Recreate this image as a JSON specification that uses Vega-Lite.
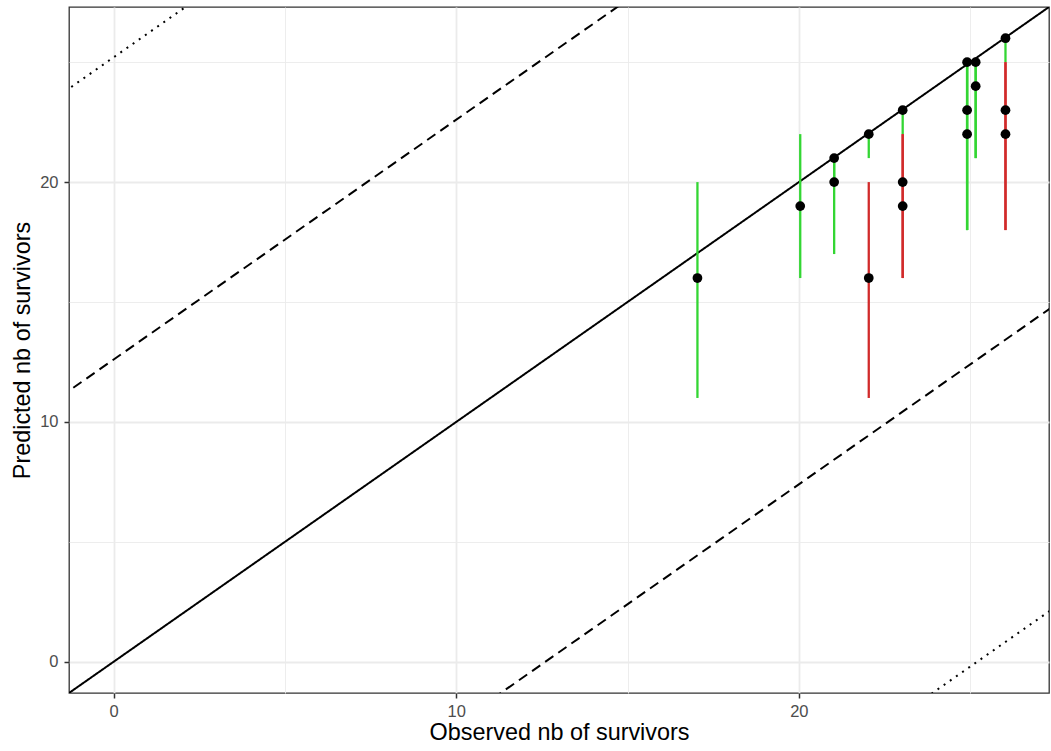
{
  "$schema": "https://vega.github.io/schema/vega-lite/v6.json",
  "width": 980,
  "height": 686,
  "autosize": "none",
  "padding": {"left": 69, "top": 7, "right": 2, "bottom": 58},
  "background": "white",
  "config": {
    "view": {"stroke": "#333333", "strokeWidth": 1.3},
    "font": "Liberation Sans"
  },
  "datasets": {
    "ref": [
      {"line": "identity", "style": "solid", "x": -5, "y": -5},
      {"line": "identity", "style": "solid", "x": 35, "y": 35},
      {"line": "dash_up", "style": "dashed", "x": -5, "y": 7.6},
      {"line": "dash_up", "style": "dashed", "x": 35, "y": 47.6},
      {"line": "dash_lo", "style": "dashed", "x": -5, "y": -17.6},
      {"line": "dash_lo", "style": "dashed", "x": 35, "y": 22.4},
      {"line": "dot_up", "style": "dotted", "x": -5, "y": 20.2},
      {"line": "dot_up", "style": "dotted", "x": 35, "y": 60.2},
      {"line": "dot_lo", "style": "dotted", "x": -5, "y": -30.2},
      {"line": "dot_lo", "style": "dotted", "x": 35, "y": 9.8}
    ],
    "obs": [
      {"x": 17.04, "y": 16, "lo": 11, "hi": 20, "col": "green"},
      {"x": 20.04, "y": 19, "lo": 16, "hi": 22, "col": "green"},
      {"x": 21.03, "y": 21, "lo": 20, "hi": 21, "col": "green"},
      {"x": 21.03, "y": 20, "lo": 17, "hi": 21, "col": "green"},
      {"x": 22.04, "y": 22, "lo": 21, "hi": 22, "col": "green"},
      {"x": 22.04, "y": 16, "lo": 11, "hi": 20, "col": "red"},
      {"x": 23.03, "y": 23, "lo": 22, "hi": 23, "col": "green"},
      {"x": 23.03, "y": 20, "lo": 16, "hi": 22, "col": "red"},
      {"x": 23.03, "y": 19, "lo": 16, "hi": 22, "col": "red"},
      {"x": 24.91, "y": 25, "lo": 18, "hi": 25, "col": "green"},
      {"x": 24.91, "y": 23, "lo": 18, "hi": 25, "col": "green"},
      {"x": 24.91, "y": 22, "lo": 18, "hi": 25, "col": "green"},
      {"x": 25.16, "y": 25, "lo": 21, "hi": 25, "col": "green"},
      {"x": 25.16, "y": 24, "lo": 21, "hi": 25, "col": "green"},
      {"x": 26.03, "y": 26, "lo": 25, "hi": 26, "col": "green"},
      {"x": 26.03, "y": 23, "lo": 18, "hi": 25, "col": "red"},
      {"x": 26.03, "y": 22, "lo": 18, "hi": 25, "col": "red"}
    ]
  },
  "layer": [
    {
      "data": {"name": "ref"},
      "mark": {"type": "line", "clip": true, "color": "black", "strokeWidth": 2},
      "encoding": {
        "x": {
          "field": "x", "type": "quantitative",
          "scale": {"domain": [-1.3, 27.3], "nice": false, "zero": false},
          "axis": {
            "title": "Observed nb of survivors",
            "values": [0, 5, 10, 15, 20, 25],
            "labelExpr": "datum.value % 10 === 0 ? datum.label : ''",
            "grid": true,
            "gridColor": "#EBEBEB",
            "gridWidth": {"condition": {"test": "datum.value % 10 === 0", "value": 1.8}, "value": 0.9},
            "domain": false,
            "tickColor": "#333333",
            "tickWidth": 1.5,
            "tickSize": 5,
            "tickOpacity": {"condition": {"test": "datum.value % 10 === 0", "value": 1}, "value": 0},
            "labelColor": "#4D4D4D",
            "labelFont": "Liberation Sans",
            "labelFontSize": 16.5,
            "labelPadding": 5,
            "titleFont": "Liberation Sans",
            "titleFontSize": 23.4,
            "titleFontWeight": "normal",
            "titleColor": "black",
            "titlePadding": 2
          }
        },
        "y": {
          "field": "y", "type": "quantitative",
          "scale": {"domain": [-1.3, 27.3], "nice": false, "zero": false},
          "axis": {
            "title": "Predicted nb of survivors",
            "values": [0, 5, 10, 15, 20, 25],
            "labelExpr": "datum.value % 10 === 0 ? datum.label : ''",
            "grid": true,
            "gridColor": "#EBEBEB",
            "gridWidth": {"condition": {"test": "datum.value % 10 === 0", "value": 1.8}, "value": 0.9},
            "domain": false,
            "tickColor": "#333333",
            "tickWidth": 1.5,
            "tickSize": 5,
            "tickOpacity": {"condition": {"test": "datum.value % 10 === 0", "value": 1}, "value": 0},
            "labelColor": "#4D4D4D",
            "labelFont": "Liberation Sans",
            "labelFontSize": 16.5,
            "labelPadding": 6,
            "titleFont": "Liberation Sans",
            "titleFontSize": 23.4,
            "titleFontWeight": "normal",
            "titleColor": "black",
            "titlePadding": 5
          }
        },
        "detail": {"field": "line"},
        "strokeDash": {
          "field": "style", "type": "nominal",
          "scale": {"domain": ["solid", "dashed", "dotted"], "range": [[1, 0], [10, 6], [2, 5.5]]},
          "legend": null
        }
      }
    },
    {
      "data": {"name": "obs"},
      "mark": {"type": "rule", "strokeWidth": 2.3},
      "encoding": {
        "x": {
          "field": "x", "type": "quantitative",
          "axis": {
            "title": "Observed nb of survivors",
            "values": [0, 5, 10, 15, 20, 25],
            "labelExpr": "datum.value % 10 === 0 ? datum.label : ''",
            "grid": true,
            "gridColor": "#EBEBEB",
            "gridWidth": {"condition": {"test": "datum.value % 10 === 0", "value": 1.8}, "value": 0.9},
            "domain": false,
            "tickColor": "#333333",
            "tickWidth": 1.5,
            "tickSize": 5,
            "tickOpacity": {"condition": {"test": "datum.value % 10 === 0", "value": 1}, "value": 0},
            "labelColor": "#4D4D4D",
            "labelFont": "Liberation Sans",
            "labelFontSize": 16.5,
            "labelPadding": 5,
            "titleFont": "Liberation Sans",
            "titleFontSize": 23.4,
            "titleFontWeight": "normal",
            "titleColor": "black",
            "titlePadding": 2
          }
        },
        "y": {
          "field": "lo", "type": "quantitative",
          "axis": {
            "title": "Predicted nb of survivors",
            "values": [0, 5, 10, 15, 20, 25],
            "labelExpr": "datum.value % 10 === 0 ? datum.label : ''",
            "grid": true,
            "gridColor": "#EBEBEB",
            "gridWidth": {"condition": {"test": "datum.value % 10 === 0", "value": 1.8}, "value": 0.9},
            "domain": false,
            "tickColor": "#333333",
            "tickWidth": 1.5,
            "tickSize": 5,
            "tickOpacity": {"condition": {"test": "datum.value % 10 === 0", "value": 1}, "value": 0},
            "labelColor": "#4D4D4D",
            "labelFont": "Liberation Sans",
            "labelFontSize": 16.5,
            "labelPadding": 6,
            "titleFont": "Liberation Sans",
            "titleFontSize": 23.4,
            "titleFontWeight": "normal",
            "titleColor": "black",
            "titlePadding": 5
          }
        },
        "y2": {"field": "hi"},
        "color": {
          "field": "col", "type": "nominal",
          "scale": {"domain": ["green", "red"], "range": ["#33D633", "#D12A2A"]},
          "legend": null
        }
      }
    },
    {
      "data": {"name": "obs"},
      "mark": {"type": "point", "filled": true, "color": "black", "opacity": 1, "size": 95},
      "encoding": {
        "x": {
          "field": "x", "type": "quantitative",
          "axis": {
            "title": "Observed nb of survivors",
            "values": [0, 5, 10, 15, 20, 25],
            "labelExpr": "datum.value % 10 === 0 ? datum.label : ''",
            "grid": true,
            "gridColor": "#EBEBEB",
            "gridWidth": {"condition": {"test": "datum.value % 10 === 0", "value": 1.8}, "value": 0.9},
            "domain": false,
            "tickColor": "#333333",
            "tickWidth": 1.5,
            "tickSize": 5,
            "tickOpacity": {"condition": {"test": "datum.value % 10 === 0", "value": 1}, "value": 0},
            "labelColor": "#4D4D4D",
            "labelFont": "Liberation Sans",
            "labelFontSize": 16.5,
            "labelPadding": 5,
            "titleFont": "Liberation Sans",
            "titleFontSize": 23.4,
            "titleFontWeight": "normal",
            "titleColor": "black",
            "titlePadding": 2
          }
        },
        "y": {
          "field": "y", "type": "quantitative",
          "axis": {
            "title": "Predicted nb of survivors",
            "values": [0, 5, 10, 15, 20, 25],
            "labelExpr": "datum.value % 10 === 0 ? datum.label : ''",
            "grid": true,
            "gridColor": "#EBEBEB",
            "gridWidth": {"condition": {"test": "datum.value % 10 === 0", "value": 1.8}, "value": 0.9},
            "domain": false,
            "tickColor": "#333333",
            "tickWidth": 1.5,
            "tickSize": 5,
            "tickOpacity": {"condition": {"test": "datum.value % 10 === 0", "value": 1}, "value": 0},
            "labelColor": "#4D4D4D",
            "labelFont": "Liberation Sans",
            "labelFontSize": 16.5,
            "labelPadding": 6,
            "titleFont": "Liberation Sans",
            "titleFontSize": 23.4,
            "titleFontWeight": "normal",
            "titleColor": "black",
            "titlePadding": 5
          }
        }
      }
    }
  ]
}
